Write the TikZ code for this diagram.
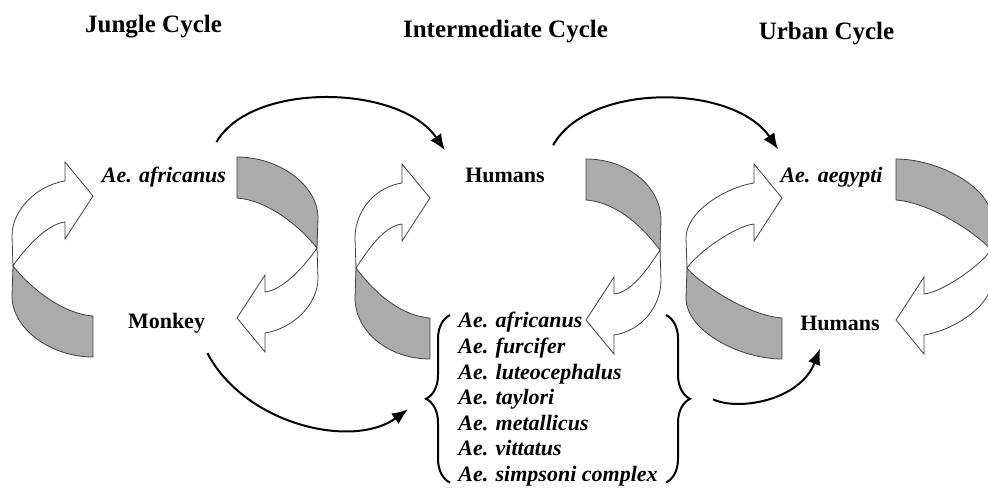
\documentclass[tikz,border=0pt]{standalone}
\usepackage{fontspec}
\setmainfont{Liberation Serif}
\usetikzlibrary{arrows.meta,decorations.pathreplacing}

\definecolor{bandgray}{gray}{0.67}
\tikzset{
  title/.style={font=\fontsize{12.5}{15}\selectfont\bfseries, inner sep=0pt},
  host/.style={font=\fontsize{11}{13}\selectfont\bfseries, inner sep=0pt},
  spec/.style={font=\fontsize{11}{12.8}\selectfont\bfseries\itshape, inner sep=0pt},
  flow/.style={line width=1pt, -{Latex[length=8pt,width=6.5pt]}},
  band/.style={draw=black!75, line width=0.4pt},
  curly/.style={decorate, decoration={brace, amplitude=12pt}, line width=1pt},
}

% one half of a twisted band, #1 = inner x of its ends
\newcommand{\ribbonhalf}[1]{%
  \filldraw[band, fill=bandgray] (-152,9) .. controls (-142,22) and ({#1-37},56) .. (#1,59)
    -- (#1,100) .. controls ({#1-42},100) and (-153,72) .. (-153,39) -- cycle;
  \filldraw[band, fill=white] (-153,-21) .. controls (-153,-48) and ({#1-55},-72) .. ({#1-28},-76)
    -- ({#1-28},-95) -- (#1,-61) -- ({#1-28},-18) -- ({#1-28},-35)
    .. controls ({#1-47},-33) and (-142,-6) .. (-152,9) -- cycle;
}
% the two bands of a cycle: centre (#1,#2), inner x #3
\newcommand{\twistcycle}[3]{%
  \begin{scope}[shift={(#1,#2)}]\ribbonhalf{#3}\end{scope}
  \begin{scope}[shift={(#1,#2)},rotate=180]\ribbonhalf{#3}\end{scope}
}

\begin{document}
\begin{tikzpicture}[x=0.5pt,y=-0.5pt]
\useasboundingbox (0,0) rectangle (988,489);
\clip (0,0) rectangle (988,489);

% titles
\node[title, anchor=base] (jungle) at (153.5,32) {Jungle Cycle};
\node[title, anchor=base] (inter) at (505.5,37) {Intermediate Cycle};
\node[title, anchor=base] (urban) at (826.5,39) {Urban Cycle};

% bands
\twistcycle{165}{257}{-72}
\twistcycle{508}{259}{-78}
\twistcycle{839}{259}{-57}

% hosts and vectors
\node[spec, anchor=base] (afr) at (164,182) {Ae. africanus};
\node[host, anchor=base] (monkey) at (166.5,328) {Monkey};
\node[host, anchor=base] (hum) at (505,182) {Humans};
\node[spec, anchor=base] (aeg) at (831.5,182) {Ae. aegypti};
\node[host, anchor=base] (humurb) at (840,330) {Humans};

\node[spec, align=left, anchor=north west] (list) at (458,312) {Ae. africanus\\
  Ae. furcifer\\
  Ae. luteocephalus\\
  Ae. taylori\\
  Ae. metallicus\\
  Ae. vittatus\\
  Ae. simpsoni complex};
\draw[curly] ([shift={(-8,-4)}]list.south west) -- ([shift={(-8,3)}]list.north west);
\draw[curly] ([shift={(8,3)}]list.north east) -- ([shift={(8,-4)}]list.south east);
\coordinate (lbr) at ([shift={(-33,0)}]list.west);
\coordinate (rbr) at ([shift={(35,0)}]list.east);

% transmission arrows
\draw[flow] ([shift={(-10,-24)}]afr.north east) .. controls +(35,-61) and +(-45,-66) .. ([shift={(-20,-17)}]hum.north west);
\draw[flow] ([shift={(8,-22)}]hum.north east) .. controls +(35,-63) and +(-45,-66) .. ([shift={(-2,-17)}]aeg.north west);
\draw[flow] ([shift={(2,20)}]monkey.south east) .. controls +(38,72) and +(-55,40) .. ([shift={(-17,10)}]lbr);
\draw[flow] ([shift={(20,0)}]rbr) .. controls +(25,12) and +(-20,52) .. ([shift={(-20,18)}]humurb.south);
\end{tikzpicture}
\end{document}
